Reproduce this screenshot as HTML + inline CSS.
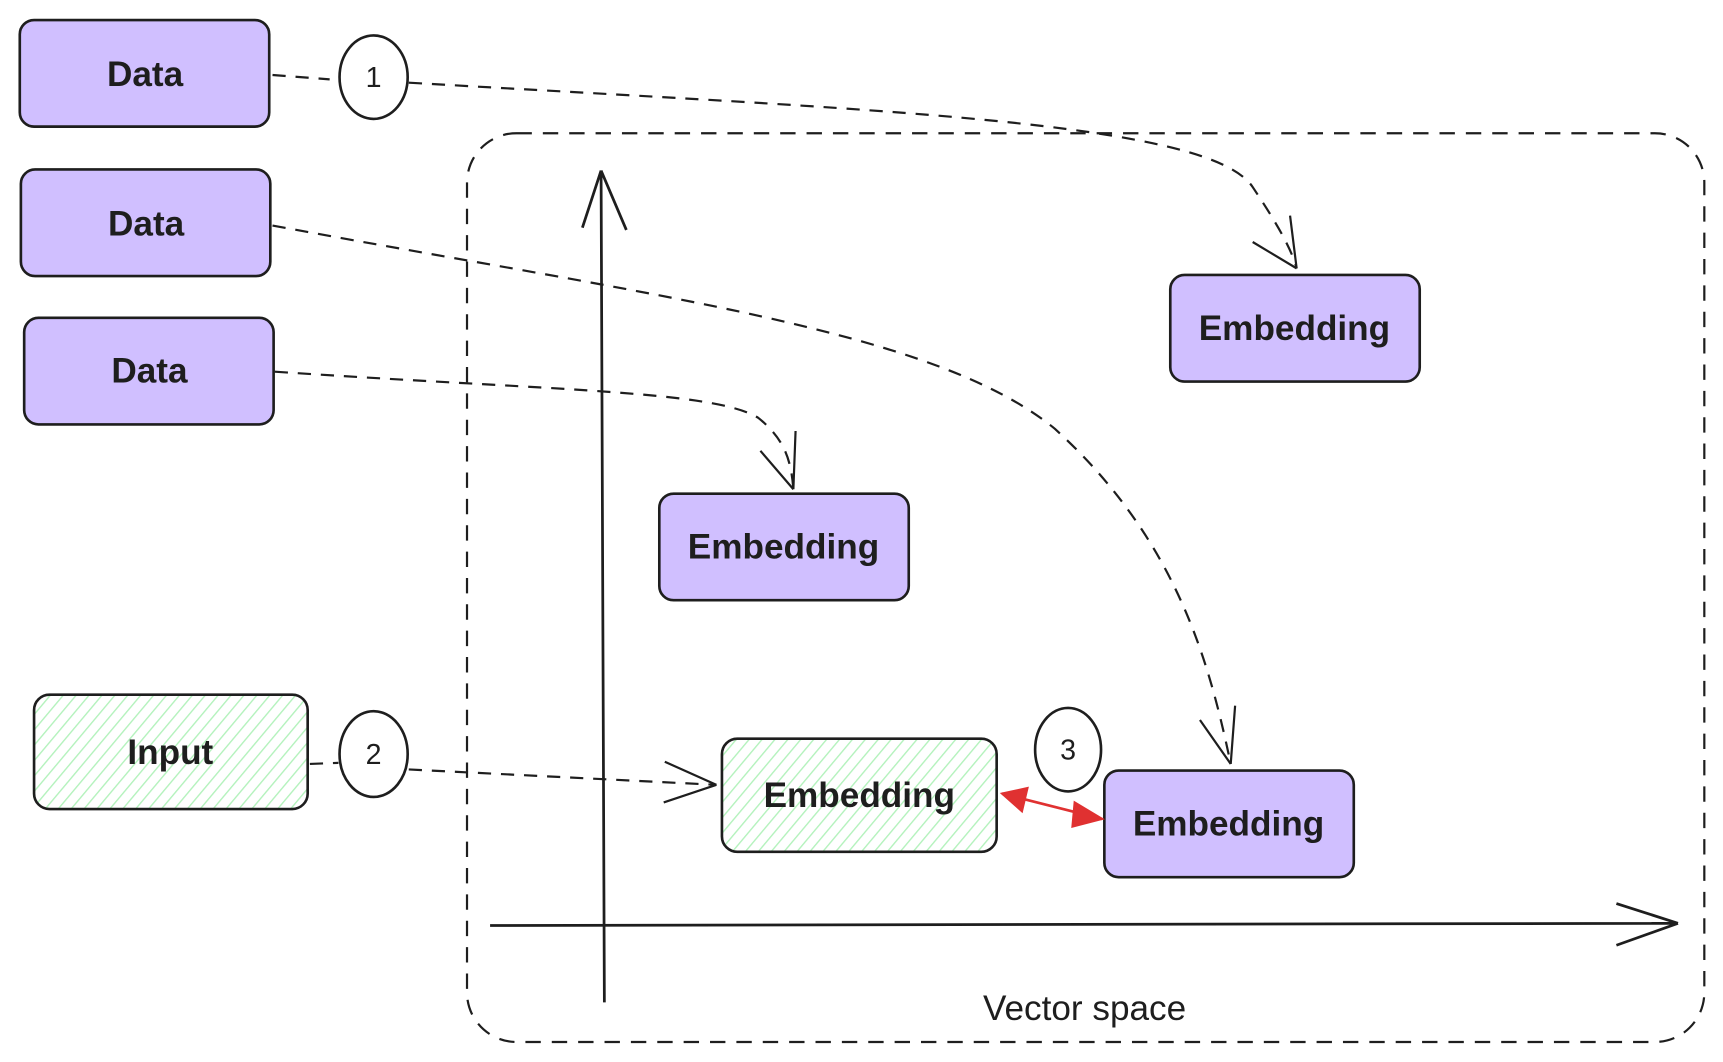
<!DOCTYPE html>
<html><head><meta charset="utf-8"><style>
html,body{margin:0;padding:0;background:#fff;}
svg{display:block;}
text{font-family:"Liberation Sans",sans-serif;fill:#1e1e1e;}
</style></head><body>
<svg width="1723" height="1062" viewBox="0 0 1568 966" xmlns="http://www.w3.org/2000/svg">
<defs>
<pattern id="h" width="9" height="9" patternUnits="userSpaceOnUse" patternTransform="rotate(40)">
<rect width="9" height="9" fill="#fff"/>
<line x1="0" y1="0" x2="0" y2="9" stroke="#b2f2bb" stroke-width="2.5"/>
</pattern>
</defs>
<g fill="none" stroke="#1e1e1e" stroke-width="2">
<rect x="425" y="121" width="1126" height="827" rx="45" stroke-dasharray="14 10"/>
<path d="M550 912 L547 155 M547 155 L530 207 M547 155 L570 209" stroke-width="2.5"/>
<path d="M446 842 L1527 840 M1527 840 L1471 822 M1527 840 L1471 860" stroke-width="2.5"/>
<g stroke-width="2.4">
<rect x="18" y="18" width="227" height="97" rx="13" fill="#d0bfff"/>
<rect x="19" y="154" width="227" height="97" rx="13" fill="#d0bfff"/>
<rect x="22" y="289" width="227" height="97" rx="13" fill="#d0bfff"/>
<rect x="1065" y="250" width="227" height="97" rx="13" fill="#d0bfff"/>
<rect x="600" y="449" width="227" height="97" rx="13" fill="#d0bfff"/>
<rect x="1005" y="701" width="227" height="97" rx="13" fill="#d0bfff"/>
<rect x="31" y="632" width="249" height="104" rx="14" fill="url(#h)"/>
<rect x="657" y="672" width="250" height="103" rx="14" fill="url(#h)"/>
<ellipse cx="340" cy="70" rx="31" ry="38"/>
<ellipse cx="340" cy="686" rx="31" ry="39"/>
<ellipse cx="972" cy="682" rx="30" ry="38"/>
</g>
<g stroke-dasharray="12 9">
<path d="M248 68 L300 72"/>
<path d="M372 75 C800 100 1100 110 1140 170 C1160 200 1175 225 1180 244"/>
<path d="M248 205 C600 270 850 300 960 390 C1070 490 1100 600 1120 695"/>
<path d="M250 338 C500 355 650 355 690 380 C715 400 720 420 722 445"/>
<path d="M282 695 L308 694"/>
<path d="M372 700 L652 714"/>
</g>
<path d="M1180 244 L1140 220 M1180 244 L1174 196"/>
<path d="M722 445 L692 410 M722 445 L724 392"/>
<path d="M1120 695 L1092 655 M1120 695 L1124 642"/>
<path d="M652 714 L605 693 M652 714 L604 730"/>
<path d="M912 722 L1003 745" stroke="#e03131" stroke-width="2.5"/>
<path d="M912 722 L935 717 L930 738 Z" fill="#e03131" stroke="#e03131"/>
<path d="M1003 745 L978 730 L976 752 Z" fill="#e03131" stroke="#e03131"/>
</g>
<g font-size="32" text-anchor="middle" font-weight="bold">
<text x="132" y="78">Data</text>
<text x="133" y="214">Data</text>
<text x="136" y="348">Data</text>
<text x="1178" y="309">Embedding</text>
<text x="713" y="508">Embedding</text>
<text x="1118" y="760">Embedding</text>
<text x="782" y="734">Embedding</text>
<text x="155" y="695">Input</text>
</g>
<g font-size="26" text-anchor="middle">
<text x="340" y="79">1</text>
<text x="340" y="695">2</text>
<text x="972" y="691">3</text>
</g>
<text x="987" y="928" font-size="32" text-anchor="middle" font-weight="500">Vector space</text>
</svg>
</body></html>
